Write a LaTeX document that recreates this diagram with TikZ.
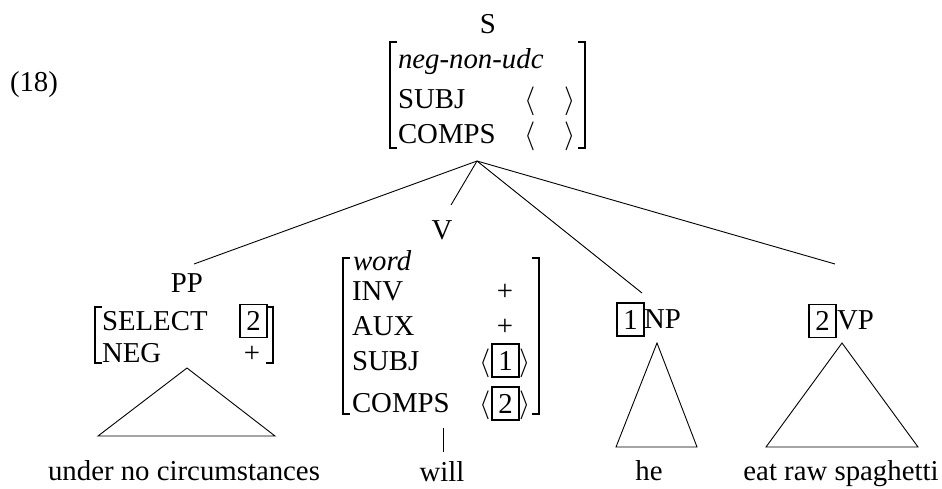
\documentclass[tikz,border=0pt]{standalone}
\usepackage{fix-cm}
\usepackage{fontspec}
\setmainfont{Liberation Serif}
\begin{document}
\begin{tikzpicture}[x=1pt,y=-1pt,
  txt/.style={inner sep=0pt, outer sep=0pt, font=\fontsize{28.8}{34}\selectfont, anchor=base},
  lft/.style={txt, anchor=base west},
  tag/.style={draw, line width=1.5pt, inner sep=0pt, minimum width=27pt, minimum height=33pt, font=\fontsize{28.8}{34}\selectfont},
  brk/.style={line width=1.5pt},
  edge/.style={line width=0.9pt},
  tri/.style={line width=0.9pt}]
\useasboundingbox (0,0) rectangle (942,488);

% example number
\node[lft] (num) at (10,91) {(18)};

% S
\node[txt] (S) at (488,33) {S};
\draw[brk] (397,42) -- (390,42) -- (390,148) -- (397,148);
\draw[brk] (578,42) -- (585,42) -- (585,148) -- (578,148);
\node[lft] (sneg) at (398,68) {\itshape neg-non-udc};
\node[lft] (ssubj) at (398,108) {SUBJ};
\node[lft] (scomps) at (398,143) {COMPS};
\node[txt] (sl1) at (530,108) {$\langle$};
\node[txt] (sr1) at (570,108) {$\rangle$};
\node[txt] (sl2) at (530,143) {$\langle$};
\node[txt] (sr2) at (570,143) {$\rangle$};
\coordinate (top) at (477,161);

% PP
\node[txt] (PP) at (187,292) {PP};
\draw[brk] (102,307) -- (95,307) -- (95,363) -- (102,363);
\draw[brk] (266,307) -- (273,307) -- (273,363) -- (266,363);
\node[lft] (sel) at (102,330) {SELECT};
\node[lft] (neg) at (102,362) {NEG};
\node[tag] (pptag) at (253.5,321) {2};
\node[txt] (negv) at (252,362) {+};
\coordinate (pptop) at (187,368);
\draw[tri] (pptop) -- (98,436) -- (275,436) -- cycle;
\node[txt] (w1) at (184,480) {under no circumstances};

% V
\node[txt] (V) at (442,239) {V};
\draw[brk] (350,258) -- (343,258) -- (343,414) -- (350,414);
\draw[brk] (532,258) -- (539,258) -- (539,414) -- (532,414);
\node[lft] (vword) at (353,270) {\itshape word};
\node[lft] (vinv) at (352,300) {INV};
\node[lft] (vaux) at (352,335) {AUX};
\node[lft] (vsubj) at (352,370) {SUBJ};
\node[lft] (vcomps) at (352,412) {COMPS};
\node[txt] (vinvv) at (505,300) {+};
\node[txt] (vauxv) at (505,335) {+};
\node[txt] (vl1) at (485,370) {$\langle$};
\node[tag] (vt1) at (505.5,360.5) {1};
\node[txt] (vr1) at (525,370) {$\rangle$};
\node[txt] (vl2) at (485,412) {$\langle$};
\node[tag] (vt2) at (505.5,403.5) {2};
\node[txt] (vr2) at (525,412) {$\rangle$};
\coordinate (vbot) at (443,428);
\coordinate (willtop) at (443,452);
\draw[edge] (vbot) -- (willtop);
\node[txt] (w2) at (442,481) {will};

% NP
\node[tag] (nptag) at (630.5,319.5) {1};
\node[lft] (NP) at (644,328) {NP};
\coordinate (nptop) at (657,343);
\draw[tri] (nptop) -- (616,447) -- (697,447) -- cycle;
\node[txt] (w3) at (649,480) {he};

% VP
\node[tag] (vptag) at (822.5,321) {2};
\node[lft] (VP) at (837,329) {VP};
\coordinate (vptop) at (842,343);
\draw[tri] (vptop) -- (766,447) -- (918,447) -- cycle;
\node[txt] (w4) at (841,480) {eat raw spaghetti};

% branches
\coordinate (ppend) at (194,264);
\coordinate (vend) at (451,205);
\coordinate (npend) at (642,293);
\coordinate (vpend) at (835,264);
\draw[edge] (top) -- (ppend);
\draw[edge] (top) -- (vend);
\draw[edge] (top) -- (npend);
\draw[edge] (top) -- (vpend);
\end{tikzpicture}
\end{document}
